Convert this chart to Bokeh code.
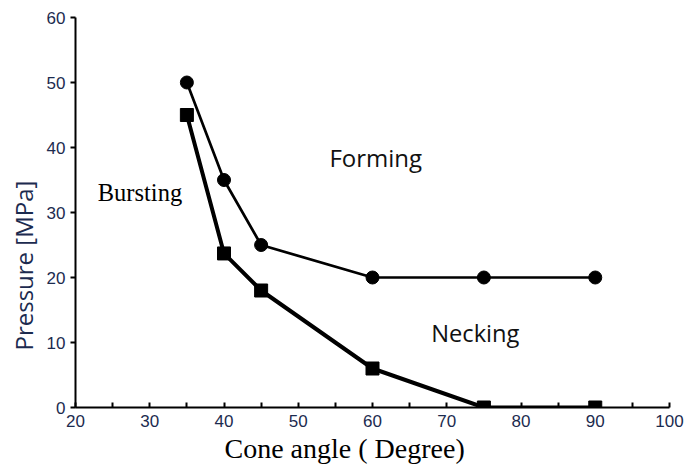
from bokeh.plotting import figure
from bokeh.models import FixedTicker, Range1d, Label, Title
from bokeh.embed import file_html
from bokeh.resources import INLINE

cone_angle = [35, 40, 45, 60, 75, 90]
forming_limit = [50, 35, 25, 20, 20, 20]
bursting_limit = [45, 23.7, 18, 6, 0, 0]
x_ticks = [20, 30, 40, 50, 60, 70, 80, 90, 100]
x_minor = [25, 35, 45, 55, 65, 75, 85, 95]
y_ticks = [0, 10, 20, 30, 40, 50, 60]

p = figure(width=685, height=469, output_backend="svg", toolbar_location=None,
           x_range=Range1d(20, 100), y_range=Range1d(0, 60),
           min_border_left=74, min_border_right=16, min_border_top=17, min_border_bottom=62)
p.outline_line_color = None
p.xgrid.visible = False
p.ygrid.visible = False

p.line(cone_angle, forming_limit, line_color="black", line_width=2.7)
p.scatter(cone_angle, forming_limit, marker="circle", size=13, color="black")
p.line(cone_angle, bursting_limit, line_color="black", line_width=4)
p.scatter(cone_angle, bursting_limit, marker="square", size=13, color="black")

tick_color = "#1c2b4f"
xa = p.xaxis[0]
xa.ticker = FixedTicker(ticks=x_ticks, minor_ticks=x_minor)
xa.axis_line_width = 2
xa.major_tick_in = 5
xa.major_tick_out = 0
xa.minor_tick_in = 5
xa.minor_tick_out = 0
xa.major_tick_line_width = 2
xa.minor_tick_line_width = 2
xa.major_label_text_font = "Liberation Sans"
xa.major_label_text_font_size = "17px"
xa.major_label_text_color = tick_color
xa.major_label_standoff = 7

ya = p.yaxis[0]
ya.ticker = FixedTicker(ticks=y_ticks, minor_ticks=[])
ya.axis_line_width = 2
ya.major_tick_in = 0
ya.major_tick_out = 5
ya.major_tick_line_width = 2
ya.minor_tick_in = 0
ya.minor_tick_out = 0
ya.major_label_text_font = "Liberation Sans"
ya.major_label_text_font_size = "17px"
ya.major_label_text_color = tick_color
ya.major_label_standoff = 5

# axis titles, placed as titles so they can sit off-centre like the original
p.add_layout(Title(text="Cone angle ( Degree)", text_font="Liberation Serif",
                   text_font_size="28px", text_font_style="normal", text_color="black",
                   align="left", offset=149, standoff=2), "below")
p.add_layout(Title(text="Pressure [MPa]", text_font="Open Sans",
                   text_font_size="24px", text_font_style="normal", text_color=tick_color,
                   align="left", offset=57, standoff=8), "left")

p.add_layout(Label(x=23.0, y=33.1, text="Bursting", text_font="Liberation Serif",
                   text_font_size="24.5px", text_baseline="middle", text_color="black"))
p.add_layout(Label(x=54.2, y=38.5, text="Forming", text_font="Open Sans",
                   text_font_size="24px", text_baseline="middle", text_color="#111111"))
p.add_layout(Label(x=67.9, y=11.5, text="Necking", text_font="Open Sans",
                   text_font_size="23.7px", text_baseline="middle", text_color="#111111"))

open("out.html", "w").write(file_html(p, INLINE))
